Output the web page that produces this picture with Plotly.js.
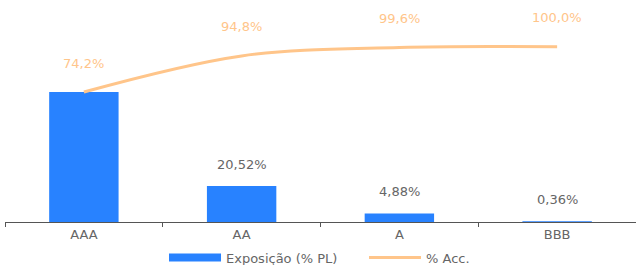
<!DOCTYPE html>
<html><head><meta charset="utf-8">
<script src="https://cdn.plot.ly/plotly-3.0.1.min.js"></script>
<style>html,body{margin:0;padding:0;background:#fff}#chart{width:636px;height:265px}</style>
</head><body><div id="chart"></div>
<script>
const categories = ["AAA", "AA", "A", "BBB"];
const exposicao = [74.2, 20.52, 4.88, 0.36];
const acumulado = [74.2, 94.8, 99.6, 100.0];
const exposicaoLabels = ["", "20,52%", "4,88%", "0,36%"];
const acumuladoLabels = ["74,2%", "94,8%", "99,6%", "100,0%"];

const FONT = "'DejaVu Sans', sans-serif";
const BLUE = "#2882FF";
const ORANGE = "#FFC58A";
const GRAY = "#666666";

const traces = [
  {type: "bar", x: categories, y: exposicao, marker: {color: BLUE}, width: 0.44,
   showlegend: false, hoverinfo: "skip"},
  {type: "scatter", mode: "lines", x: categories, y: acumulado,
   line: {color: ORANGE, width: 3, shape: "spline", smoothing: 1},
   showlegend: false, hoverinfo: "skip"},
  {type: "scatter", mode: "lines", x: [null], y: [null], name: "Exposição (% PL)",
   line: {color: BLUE, width: 8}},
  {type: "scatter", mode: "lines", x: [null], y: [null], name: "% Acc.",
   line: {color: ORANGE, width: 3}}
];

const annotations = [];
categories.forEach((c, i) => {
  if (exposicaoLabels[i]) annotations.push({x: c, y: exposicao[i], text: exposicaoLabels[i],
    showarrow: false, yshift: 22, font: {family: FONT, size: 13, color: GRAY}});
  annotations.push({x: c, y: acumulado[i], text: acumuladoLabels[i],
    showarrow: false, yshift: 29, font: {family: FONT, size: 13, color: ORANGE}});
});

const layout = {
  width: 636, height: 265,
  margin: {l: 5, r: 0, t: 30, b: 43, autoexpand: false},
  paper_bgcolor: "#fff", plot_bgcolor: "#fff",
  font: {family: FONT, size: 13, color: GRAY},
  xaxis: {type: "category", showline: true, linecolor: "#555", linewidth: 1,
    ticks: "outside", ticklen: 4, tickcolor: "#555", tickson: "boundaries",
    showgrid: false, zeroline: false, tickfont: {family: FONT, size: 13, color: GRAY}},
  yaxis: {range: [0, 109.6], visible: false, showgrid: false, zeroline: false},
  showlegend: true,
  legend: {orientation: "h", x: 0.252, xanchor: "left", y: -0.185, yanchor: "middle",
    itemwidth: 52, entrywidth: 133, entrywidthmode: "pixels",
    font: {family: FONT, size: 13, color: GRAY}, bgcolor: "rgba(0,0,0,0)"},
  annotations: annotations
};

Plotly.newPlot("chart", traces, layout, {displayModeBar: false, staticPlot: true});
</script></body></html>
